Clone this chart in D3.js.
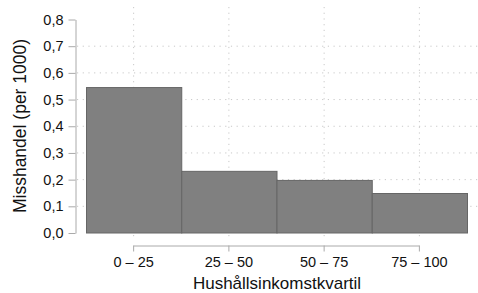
<!DOCTYPE html>
<html lang="sv">
<head>
    <meta charset="UTF-8">
    <title>Misshandel per hushållsinkomstkvartil</title>
    <script src="https://d3js.org/d3.v7.min.js"></script>
    <style>
        body { margin: 0; background: #fff; }
        text { font-family: "Liberation Sans", Arial, sans-serif; fill: #111; }
    </style>
</head>
<body>
    <svg width="478" height="293"></svg>

    <script>
        // Data
        const categories = ["0 \u2013 25", "25 \u2013 50", "50 \u2013 75", "75 \u2013 100"];
        const values = [0.545, 0.231, 0.197, 0.148];
        const yTicks = [0, 0.1, 0.2, 0.3, 0.4, 0.5, 0.6, 0.7, 0.8];
        const gridY = [0.1, 0.2, 0.3, 0.4, 0.5, 0.6, 0.7];

        const svg = d3.select("svg");

        // Scales
        const x = d3.scaleBand()
            .domain(categories)
            .range([86, 467])
            .padding(0);

        const y = d3.scaleLinear()
            .domain([0, 0.8])
            .range([233, 19.5]);

        const fmt = d => d3.format(".1f")(d).replace(".", ",");

        // Grid lines (dotted)
        const grid = svg.append("g")
            .attr("stroke", "#c8c8c8")
            .attr("stroke-width", 1)
            .attr("stroke-dasharray", "1.2,4.5");

        grid.selectAll("line.h")
            .data(gridY)
            .join("line")
            .attr("class", "h")
            .attr("x1", 77).attr("x2", 478)
            .attr("y1", d => y(d)).attr("y2", d => y(d));

        grid.selectAll("line.v")
            .data(categories)
            .join("line")
            .attr("class", "v")
            .attr("x1", d => x(d) + x.bandwidth() / 2)
            .attr("x2", d => x(d) + x.bandwidth() / 2)
            .attr("y1", 7).attr("y2", 240);

        // Bars
        svg.append("g")
            .selectAll("rect")
            .data(categories)
            .join("rect")
            .attr("x", d => x(d) + 0.5)
            .attr("y", (d, i) => y(values[i]))
            .attr("width", x.bandwidth())
            .attr("height", (d, i) => y(0) - y(values[i]))
            .attr("fill", "#808080")
            .attr("stroke", "#666")
            .attr("stroke-width", 1);

        // Y axis
        const yAxis = svg.append("g")
            .attr("transform", "translate(75.5,0)")
            .call(d3.axisLeft(y).tickValues(yTicks).tickFormat(fmt).tickSize(7).tickSizeOuter(0).tickPadding(5));
        yAxis.selectAll("path, line").attr("stroke", "#aaa");
        yAxis.selectAll("text").style("font-size", "14.5px").attr("fill", "#111");

        // X axis
        const xAxisY = 245.5;
        const xAxis = svg.append("g")
            .attr("transform", `translate(0,${xAxisY})`)
            .call(d3.axisBottom(x).tickSize(6).tickSizeOuter(0).tickPadding(5));
        xAxis.select(".domain").remove();
        xAxis.selectAll("line").attr("stroke", "#aaa");
        xAxis.selectAll("text").style("font-size", "14.5px").attr("fill", "#111");
        const first = x(categories[0]) + x.bandwidth() / 2;
        const last = x(categories[categories.length - 1]) + x.bandwidth() / 2;
        xAxis.append("line")
            .attr("x1", first).attr("x2", last)
            .attr("y1", 0.5).attr("y2", 0.5)
            .attr("stroke", "#aaa");

        // Axis titles
        svg.append("text")
            .attr("x", 277)
            .attr("y", 289)
            .attr("text-anchor", "middle")
            .style("font-size", "17px")
            .text("Hushållsinkomstkvartil");

        svg.append("text")
            .attr("transform", "translate(26,126) rotate(-90)")
            .attr("text-anchor", "middle")
            .style("font-size", "17.5px")
            .text("Misshandel (per 1000)");
    </script>
</body>
</html>
